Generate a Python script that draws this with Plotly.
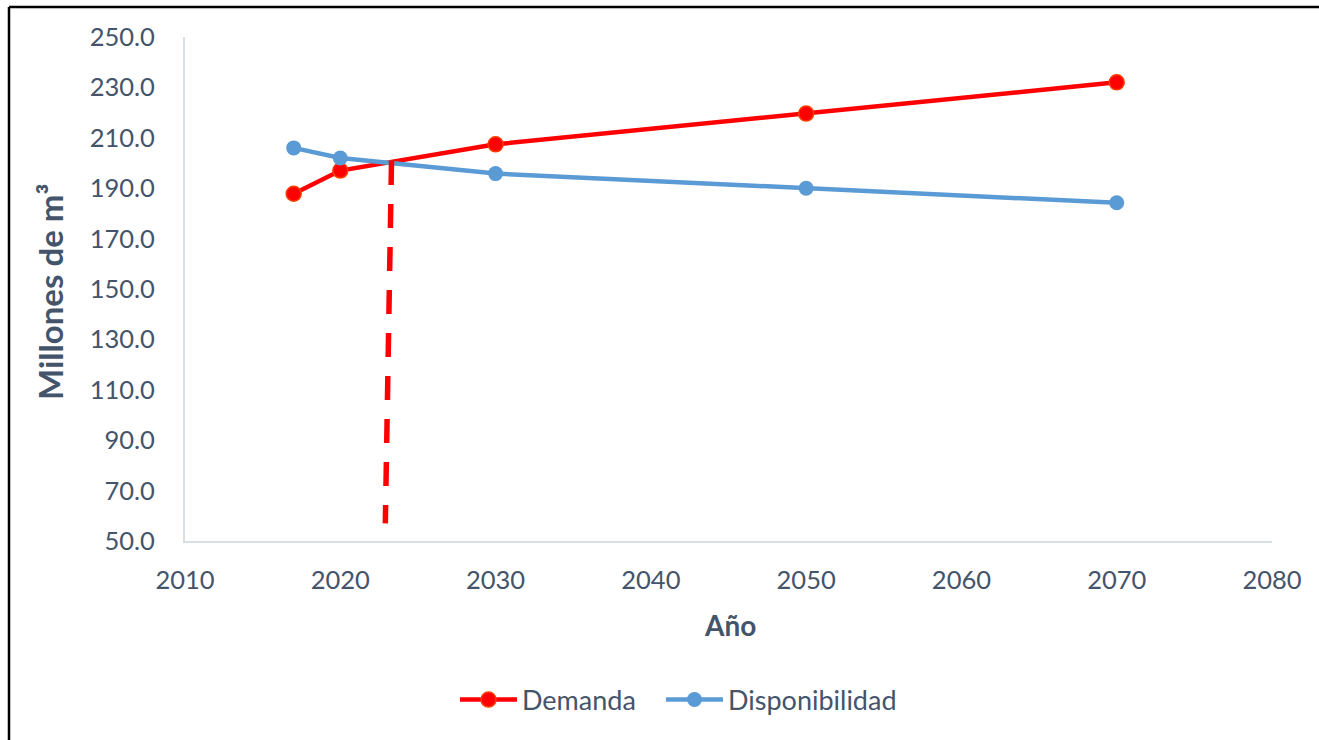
import plotly.graph_objects as go

years = [2017, 2020, 2030, 2050, 2070]
demanda = [187.8, 197.0, 207.4, 219.6, 232.0]
disponibilidad = [206.0, 202.0, 195.8, 190.0, 184.2]
cruce_x = [2023.3, 2022.9]
cruce_y = [200.8, 57.0]

FONT = "Lato"
TXT = "#44546A"

fig = go.Figure()
fig.add_trace(go.Scatter(
    x=years, y=demanda, name="Demanda", mode="lines+markers", legend="legend",
    line=dict(color="#FF0000", width=4.5),
    marker=dict(size=15, color="#FF0000", line=dict(color="#FF3D00", width=1.5)),
))
fig.add_trace(go.Scatter(
    x=years, y=disponibilidad, name="Disponibilidad", mode="lines+markers", legend="legend2",
    line=dict(color="#5B9BD5", width=4.5),
    marker=dict(size=15, color="#5B9BD5"),
))
fig.add_trace(go.Scatter(
    x=cruce_x, y=cruce_y, mode="lines", showlegend=False, hoverinfo="skip",
    line=dict(color="#FF0000", width=5.5, dash="24px,19px"),
))

W, H = 1319, 740
L, R, T, B = 185, 47, 37, 199
pw, ph = W - L - R, H - T - B

def px(x):
    return (x - L) / pw

def py(y):
    return (H - B - y) / ph

leg_common = dict(orientation="h", xanchor="left", yanchor="middle", y=py(700),
                  font=dict(size=27, color=TXT), itemwidth=57, bgcolor="rgba(0,0,0,0)")

fig.update_layout(
    width=W, height=H,
    margin=dict(l=L, r=R, t=T, b=B, pad=0),
    paper_bgcolor="white", plot_bgcolor="white",
    font=dict(family=FONT, color=TXT, size=25.5),
    showlegend=True,
    legend=dict(x=px(455), **leg_common),
    legend2=dict(x=px(661), **leg_common),
    xaxis=dict(range=[2010, 2080], tickvals=[2010, 2020, 2030, 2040, 2050, 2060, 2070, 2080],
               showgrid=False, zeroline=False, showline=True, linecolor="#D9DDE4", linewidth=2,
               ticks="", ticklabelstandoff=15, tickfont=dict(size=25.5, color=TXT)),
    yaxis=dict(range=[50, 250], tickvals=[50, 70, 90, 110, 130, 150, 170, 190, 210, 230, 250],
               tickformat=".1f",
               showgrid=False, zeroline=False, showline=True, linecolor="#D9DDE4", linewidth=2,
               ticks="", ticklabelstandoff=23, tickfont=dict(size=25.5, color=TXT)),
    annotations=[
        dict(text="<b>Año</b>", x=px(730), y=py(625), xref="paper", yref="paper",
             showarrow=False, font=dict(size=28, color=TXT, family=FONT),
             xanchor="center", yanchor="middle"),
        dict(text="<b>Millones de m³</b>", x=px(50), y=py(292), xref="paper", yref="paper",
             showarrow=False, textangle=-90, font=dict(size=33, color=TXT, family=FONT),
             xanchor="center", yanchor="middle"),
    ],
    shapes=[
        dict(type="line", xref="paper", yref="paper", x0=px(9), x1=px(1330), y0=py(7), y1=py(7),
             line=dict(color="black", width=2.5)),
        dict(type="line", xref="paper", yref="paper", x0=px(9), x1=px(9), y0=py(7), y1=py(760),
             line=dict(color="black", width=2.5)),
    ],
)

fig.write_html("out.html")
